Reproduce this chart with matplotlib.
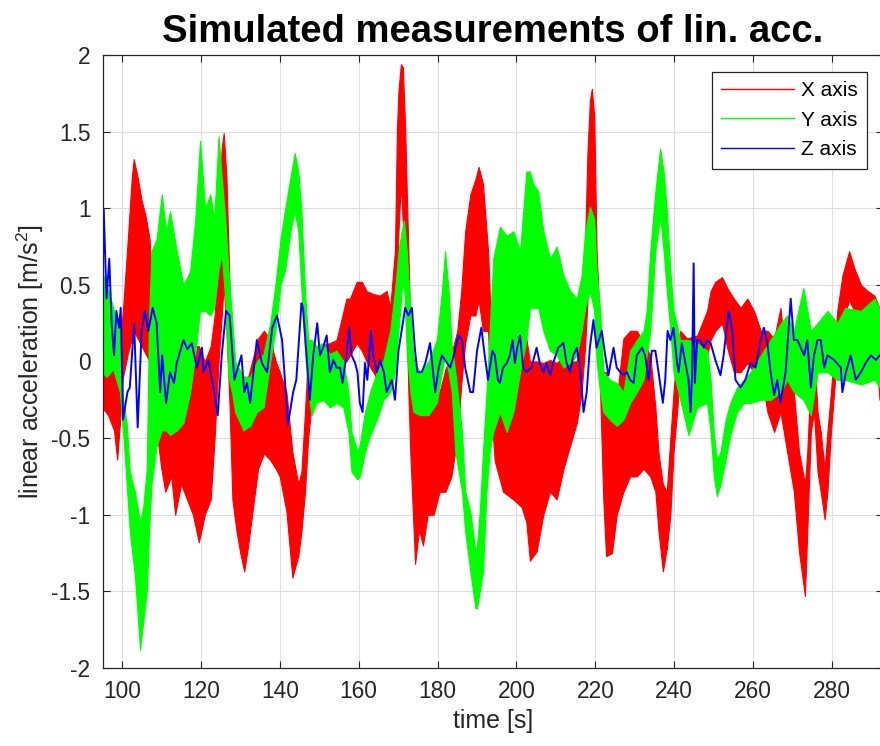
import matplotlib
matplotlib.use("Agg")
import matplotlib.pyplot as plt
from matplotlib.lines import Line2D
import numpy as np

plt.rcParams['font.family'] = ['Liberation Sans', 'DejaVu Sans']
plt.rcParams['mathtext.default'] = 'regular'
plt.rcParams['axes.unicode_minus'] = False

# X axis (red): time and lower / upper edge of the noisy band
x_t = [95.0, 96.5, 98.0, 98.8, 99.5, 100.3, 101.5, 102.5, 103.0, 104.0, 105.0, 106.0, 107.0,
       108.0, 109.0, 110.0, 111.0, 112.5, 113.5, 115.0, 116.5, 118.0, 119.5, 121.0, 122.5,
       123.5, 124.5, 125.3, 125.8, 126.5, 127.3, 128.0, 129.0, 130.0, 131.0, 132.0, 133.0,
       134.5, 136.0, 137.5, 139.0, 140.0, 141.7, 143.2, 144.7, 145.5, 146.4, 147.2, 148.0,
       150.0, 152.7, 154.4, 156.9, 157.8, 159.5, 160.8, 162.0, 163.7, 165.4, 167.1, 168.0,
       168.8, 169.2, 169.7, 170.1, 170.7, 171.2, 171.8, 172.2, 172.6, 173.1, 174.3, 175.3,
       176.3, 177.5, 179.0, 180.5, 182.0, 183.5, 185.0, 186.0, 187.0, 188.3, 189.6, 190.4,
       191.5, 192.8, 193.6, 194.5, 196.6, 199.2, 201.3, 202.5, 203.4, 205.1, 206.8, 208.5,
       210.2, 211.9, 213.6, 215.3, 216.5, 217.4, 218.0, 218.6, 219.1, 219.7, 220.3, 221.2,
       222.0, 222.7, 224.2, 225.4, 227.1, 228.8, 230.5, 232.2, 233.9, 235.2, 236.0, 237.1,
       238.1, 239.0, 239.8, 240.7, 241.5, 243.2, 245.8, 248.3, 249.2, 250.4, 252.1, 253.4,
       255.1, 256.8, 258.5, 260.2, 261.9, 263.6, 265.3, 266.9, 268.6, 270.3, 271.6, 273.1,
       273.7, 274.6, 275.4, 276.3, 277.1, 278.1, 278.8, 279.7, 280.5, 281.3, 282.6, 284.3,
       285.6, 287.3, 289.0, 290.7, 292.0, 293.0]
x_lo = [-0.30, -0.35, -0.45, -0.64, -0.40, -0.10, 0.05, 0.15, 0.20, 0.15, 0.10, 0.05, 0.00,
        -0.10, -0.50, -0.70, -0.85, -0.75, -1.00, -0.80, -0.90, -1.00, -1.18, -1.00, -0.90,
        -0.50, 0.00, 0.30, 0.50, 0.20, -0.30, -0.90, -1.10, -1.25, -1.37, -1.20, -1.00,
        -0.70, -0.60, -0.64, -0.70, -0.75, -0.98, -1.41, -1.27, -1.11, -0.85, -0.50, -0.30,
        -0.05, -0.05, 0.04, 0.00, 0.04, 0.12, 0.07, 0.00, -0.07, -0.15, -0.22, -0.10,
        0.00, 0.20, 0.40, 0.85, 1.16, 0.90, 0.50, 0.20, -0.20, -0.60, -1.32, -1.10,
        -1.20, -1.00, -1.00, -0.85, -0.85, -0.75, -0.50, -0.15, 0.12, 0.30, 0.30, 0.40,
        0.20, 0.20, -0.33, -0.65, -0.85, -0.90, -0.95, -1.05, -1.30, -1.24, -1.00, -0.85,
        -0.90, -0.70, -0.55, -0.40, -0.20, 0.10, 0.40, 0.75, 0.98, 0.60, 0.30, -0.20,
        -0.90, -1.27, -1.25, -1.00, -0.85, -0.75, -0.75, -0.70, -0.75, -0.85, -1.11, -1.37,
        -1.22, -1.00, -0.59, -0.33, -0.07, -0.05, -0.05, 0.04, 0.14, 0.20, 0.25, 0.09,
        -0.07, -0.07, -0.01, -0.07, -0.07, -0.33, -0.46, -0.33, -0.59, -0.85, -1.24, -1.53,
        -1.11, -0.46, -0.33, -0.72, -0.85, -1.03, -0.85, -0.46, -0.20, 0.07, 0.25, 0.40,
        0.33, 0.25, 0.20, 0.25, -0.25, 0.00]
x_hi = [0.35, 0.20, 0.10, 0.05, 0.10, 0.35, 0.80, 1.20, 1.32, 1.20, 1.05, 0.95, 0.80,
        0.40, 0.05, 0.00, -0.05, -0.05, -0.10, 0.00, 0.00, 0.10, 0.10, 0.00, 0.10,
        0.30, 0.90, 1.40, 1.49, 1.20, 0.46, 0.00, -0.05, -0.10, -0.10, -0.10, 0.00,
        0.15, 0.20, 0.15, 0.00, -0.07, -0.20, -0.59, -0.80, -0.72, -0.33, 0.07, 0.10,
        0.10, 0.12, 0.14, 0.41, 0.41, 0.52, 0.52, 0.46, 0.44, 0.43, 0.46, 0.35,
        0.60, 0.72, 1.51, 1.77, 1.94, 1.92, 1.51, 1.11, 0.72, 0.20, -0.07, -0.25,
        -0.30, -0.27, -0.20, -0.20, -0.05, 0.05, 0.20, 0.46, 0.85, 1.09, 1.19, 1.27,
        1.16, 0.72, 0.20, -0.25, -0.35, -0.33, 0.00, 0.15, 0.00, 0.00, -0.01, 0.01,
        -0.01, 0.03, 0.00, 0.00, 0.30, 0.80, 1.37, 1.70, 1.78, 1.60, 0.72, 0.20,
        -0.07, -0.07, -0.20, -0.25, 0.15, 0.20, 0.20, 0.12, 0.04, -0.30, -0.60, -0.80,
        -0.85, -0.50, -0.20, 0.07, 0.20, 0.15, 0.17, 0.33, 0.46, 0.52, 0.55, 0.48,
        0.41, 0.35, 0.41, 0.33, 0.20, 0.20, 0.15, 0.35, -0.07, -0.20, -0.59, -0.80,
        -0.59, -0.07, 0.10, -0.33, -0.46, -0.70, -0.46, -0.20, 0.07, 0.33, 0.56, 0.72,
        0.61, 0.50, 0.46, 0.43, 0.35, 0.30]

# Y axis (green)
y_t = [94.9, 96.1, 97.8, 99.5, 100.3, 101.2, 102.0, 103.3, 104.6, 105.4, 106.3, 106.9,
       107.5, 108.8, 110.1, 111.2, 112.2, 113.9, 115.6, 117.3, 118.6, 119.8, 121.1, 122.4,
       123.4, 124.5, 125.3, 126.2, 127.0, 127.9, 128.7, 130.8, 132.5, 134.2, 135.9, 137.6,
       138.9, 140.2, 141.4, 142.7, 143.8, 144.7, 145.5, 146.4, 147.2, 148.1, 149.3, 151.0,
       152.7, 154.4, 156.1, 157.4, 158.2, 159.7, 160.3, 161.6, 162.9, 164.6, 166.3, 168.0,
       169.2, 170.1, 170.9, 171.5, 172.2, 173.1, 173.9, 175.6, 177.7, 179.8, 181.1, 181.9,
       182.8, 183.6, 184.5, 186.2, 187.0, 188.3, 189.6, 190.0, 190.7, 191.5, 192.4, 193.2,
       194.1, 195.8, 197.5, 199.2, 200.9, 202.5, 203.4, 204.2, 205.5, 206.8, 208.5, 210.2,
       211.9, 213.6, 215.3, 216.5, 217.4, 218.6, 219.7, 220.3, 221.2, 222.0, 223.7, 225.4,
       227.1, 228.8, 230.5, 232.2, 233.0, 233.9, 235.2, 236.4, 237.3, 238.1, 239.0, 239.8,
       241.5, 243.6, 245.8, 248.3, 249.2, 250.0, 250.8, 251.7, 253.0, 254.2, 255.9, 257.6,
       259.3, 261.9, 264.4, 267.0, 268.6, 270.3, 272.7, 274.6, 276.3, 278.8, 281.3, 283.3,
       287.3, 290.7, 293.0]
y_lo = [-0.07, -0.10, -0.05, -0.20, -0.46, -0.80, -1.11, -1.40, -1.88, -1.70, -1.50, -1.10,
        -0.80, -0.55, -0.45, -0.45, -0.48, -0.45, -0.40, -0.20, 0.05, 0.33, 0.33, 0.30,
        0.35, 0.60, 0.70, 0.40, -0.10, -0.20, -0.33, -0.45, -0.42, -0.33, -0.30, 0.00,
        0.20, 0.50, 0.60, 0.85, 0.98, 0.85, 0.46, 0.07, -0.20, -0.35, -0.27, -0.25,
        -0.30, -0.27, -0.30, -0.46, -0.72, -0.77, -0.75, -0.59, -0.48, -0.38, -0.25, -0.20,
        -0.07, 0.20, 0.46, 0.50, 0.07, -0.20, -0.33, -0.35, -0.35, -0.27, -0.07, 0.04,
        -0.07, -0.20, -0.59, -0.85, -1.11, -1.37, -1.61, -1.61, -1.50, -1.37, -0.85, -0.59,
        -0.46, -0.33, -0.46, -0.33, -0.07, 0.14, 0.35, 0.35, 0.35, 0.20, 0.07, 0.04,
        -0.04, -0.01, 0.04, 0.20, 0.35, 0.46, 0.33, 0.00, -0.20, -0.33, -0.38, -0.42,
        -0.38, -0.27, -0.20, -0.12, 0.04, 0.20, 0.72, 0.95, 0.72, 0.46, 0.20, -0.07,
        -0.25, -0.48, -0.30, -0.27, -0.46, -0.75, -0.88, -0.80, -0.64, -0.48, -0.33, -0.27,
        -0.27, -0.25, -0.25, -0.20, -0.12, -0.20, -0.25, -0.35, -0.07, -0.07, -0.12, -0.12,
        -0.15, -0.12, -0.20]
y_hi = [0.59, 0.50, 0.35, 0.20, -0.25, -0.40, -0.72, -0.85, -1.05, -0.95, -0.70, 0.30,
        0.72, 0.80, 1.09, 0.85, 0.98, 0.72, 0.50, 0.59, 0.93, 1.44, 1.00, 1.09,
        0.93, 1.47, 1.20, 0.93, 0.59, 0.30, 0.00, -0.10, -0.10, 0.00, 0.05, 0.25,
        0.50, 0.80, 1.00, 1.20, 1.36, 1.24, 0.98, 0.46, 0.14, 0.14, 0.10, 0.12,
        0.05, 0.07, 0.00, -0.20, -0.46, -0.59, -0.54, -0.33, -0.20, -0.07, 0.01, 0.20,
        0.46, 0.72, 0.85, 0.92, 0.72, 0.33, 0.00, -0.07, 0.00, 0.14, 0.46, 0.72,
        0.46, 0.10, -0.07, -0.46, -0.85, -0.98, -1.24, -1.20, -0.98, -0.59, -0.20, 0.20,
        0.67, 0.88, 0.82, 0.85, 0.72, 1.24, 1.24, 1.16, 1.11, 0.85, 0.67, 0.75,
        0.56, 0.46, 0.41, 0.56, 0.85, 1.01, 0.93, 0.59, 0.33, -0.07, -0.12, -0.14,
        -0.20, 0.07, 0.14, 0.20, 0.33, 0.72, 1.11, 1.39, 1.24, 0.98, 0.59, 0.33,
        0.14, 0.14, 0.12, 0.07, -0.12, -0.46, -0.64, -0.59, -0.38, -0.27, -0.17, -0.12,
        -0.07, 0.04, 0.14, 0.25, 0.30, 0.20, 0.48, 0.20, 0.25, 0.33, 0.25, 0.35,
        0.33, 0.41, 0.30]

# Z axis (blue line)
z_t = [94.9, 95.4, 96.1, 96.8, 97.4, 98.0, 98.6, 99.3, 99.7, 100.3, 101.4, 102.0, 103.1,
       104.0, 105.0, 105.8, 106.7, 107.8, 108.8, 109.7, 110.2, 111.2, 112.2, 113.2, 113.9,
       115.6, 116.6, 117.7, 119.0, 120.3, 120.7, 121.9, 123.2, 124.3, 125.3, 126.4, 127.3,
       128.5, 130.3, 131.0, 131.7, 132.5, 134.2, 135.5, 136.8, 138.1, 139.3, 140.6, 142.1,
       143.4, 144.2, 145.5, 145.9, 146.8, 147.6, 148.5, 149.5, 150.2, 151.0, 151.9, 152.7,
       153.6, 154.4, 155.3, 155.9, 156.9, 157.6, 158.2, 159.1, 159.7, 160.3, 161.0, 161.6,
       162.2, 163.1, 163.7, 164.6, 165.4, 166.4, 167.1, 168.4, 169.2, 170.1, 170.9, 171.8,
       172.6, 173.5, 174.3, 174.9, 176.0, 176.9, 178.1, 179.4, 180.3, 181.1, 181.9, 183.2,
       184.1, 185.3, 186.2, 187.0, 188.3, 189.0, 190.0, 191.1, 191.95, 192.8, 193.9, 194.5,
       195.3, 195.8, 196.6, 197.6, 198.3, 199.0, 199.6, 200.2, 200.9, 201.7, 202.5, 203.8,
       205.1, 205.9, 206.8, 207.6, 208.5, 209.3, 210.6, 211.9, 212.7, 213.6, 214.4, 215.3,
       216.1, 217.0, 217.8, 218.6, 219.5, 220.3, 221.6, 222.5, 223.3, 224.6, 225.4, 226.3,
       227.1, 228.0, 228.8, 229.7, 230.5, 231.8, 232.6, 233.5, 234.3, 235.2, 236.0, 237.1,
       237.7, 238.3, 239.0, 239.8, 240.7, 241.1, 241.9, 242.8, 243.6, 244.1, 244.5, 244.9,
       245.2, 245.8, 246.6, 247.5, 248.3, 249.2, 250.4, 251.7, 252.5, 253.4, 253.8, 254.7,
       255.5, 256.8, 258.0, 259.3, 260.6, 261.9, 262.7, 263.6, 264.4, 265.3, 266.1, 266.9,
       268.2, 269.5, 270.3, 271.2, 272.9, 273.7, 274.6, 275.4, 276.3, 277.1, 278.0, 278.8,
       280.5, 282.2, 282.6, 283.5, 284.7, 286.0, 287.3, 288.5, 289.8, 291.1, 292.4]
z_v = [0.14, 0.99, 0.41, 0.67, 0.25, 0.04, 0.33, 0.22, 0.35, -0.38, -0.20, -0.17, 0.25,
       -0.43, 0.20, 0.33, 0.20, 0.35, 0.25, -0.20, 0.04, -0.27, -0.07, -0.14, -0.01,
       0.14, 0.08, 0.12, -0.04, 0.09, -0.07, 0.01, -0.17, -0.35, 0.04, 0.33, 0.30,
       -0.12, 0.04, -0.20, -0.14, -0.27, 0.14, -0.01, -0.07, 0.22, 0.30, 0.14, -0.41,
       -0.20, -0.12, 0.38, 0.35, 0.04, -0.25, 0.04, 0.25, 0.04, 0.09, 0.17, -0.07,
       0.01, -0.04, -0.04, -0.14, 0.04, 0.22, 0.04, -0.01, -0.07, -0.27, -0.33, -0.01,
       -0.12, 0.20, 0.04, -0.07, 0.01, -0.07, -0.20, -0.12, -0.25, 0.07, 0.20, 0.35,
       0.30, 0.35, 0.07, -0.07, -0.07, -0.01, 0.12, -0.20, -0.04, 0.04, 0.01, -0.04,
       0.04, 0.17, 0.14, -0.04, -0.20, -0.20, 0.07, 0.22, 0.04, -0.12, 0.07, 0.04,
       -0.12, -0.14, -0.04, -0.01, 0.04, 0.14, -0.01, 0.09, 0.17, -0.04, -0.07, -0.04,
       0.09, -0.01, -0.07, -0.01, -0.09, -0.01, 0.09, 0.12, -0.01, -0.07, 0.04, 0.09,
       -0.04, -0.33, -0.20, 0.09, 0.27, 0.09, 0.20, 0.04, -0.09, 0.09, -0.04, -0.07,
       -0.09, -0.07, -0.12, -0.14, 0.04, 0.09, 0.04, -0.12, 0.07, 0.07, -0.07, -0.27,
       -0.12, 0.20, 0.14, 0.22, -0.01, -0.07, 0.12, -0.01, -0.12, -0.33, -0.09, 0.64,
       -0.14, 0.14, 0.14, 0.09, 0.14, 0.12, 0.01, -0.09, 0.04, 0.25, 0.33, 0.20,
       -0.12, -0.17, -0.12, -0.01, -0.04, 0.14, 0.22, 0.12, -0.07, -0.22, -0.12, -0.27,
       -0.07, 0.41, 0.14, 0.14, 0.04, 0.14, -0.17, 0.04, 0.14, 0.14, -0.04, 0.04,
       0.01, -0.04, -0.20, -0.07, 0.04, -0.12, -0.07, -0.01, 0.04, 0.01, 0.05]

yticks = [-2, -1.5, -1, -0.5, 0, 0.5, 1, 1.5, 2]
ytick_labels = ['-2', '-1.5', '-1', '-0.5', '0', '0.5', '1', '1.5', '2']
xticks = [100, 120, 140, 160, 180, 200, 220, 240, 260, 280]

dark = (0.15, 0.15, 0.15)

fig = plt.figure(figsize=(8.8, 7.46), dpi=100)
ax = fig.add_axes([0.117, 0.1046, 0.886, 0.8217])

ax.fill_between(x_t, x_lo, x_hi, color='#ff0000', lw=0.8, edgecolor='#ff0000')
ax.fill_between(y_t, y_lo, y_hi, color='#00ff00', lw=0.8, edgecolor='#00ff00')
ax.plot(z_t, z_v, color='#0000ff', lw=1.4)

ax.set_xlim(95.2, 292.8)
ax.set_ylim(-2, 2)
ax.set_xticks(xticks)
ax.set_yticks(yticks)
ax.set_yticklabels(ytick_labels)
ax.grid(True, color='#dedede', lw=0.8)
ax.set_axisbelow(True)
ax.tick_params(direction='in', length=5, width=0.8, colors=dark, labelsize=16.4,
               top=True, right=True, pad=9)
for s in ax.spines.values():
    s.set_color(dark)
    s.set_linewidth(0.9)

ax.set_title('Simulated measurements of lin. acc.', fontsize=27.5, fontweight='bold', pad=9)
ax.set_xlabel('time [s]', fontsize=18, color=dark, labelpad=4)
ax.set_ylabel('linear acceleration [m/s$^2$]', fontsize=18, color=dark, labelpad=4)

handles = [Line2D([], [], color='#ff0000', lw=1),
           Line2D([], [], color='#00ff00', lw=1),
           Line2D([], [], color='#0000ff', lw=1)]
leg = ax.legend(handles, ['X axis', 'Y axis', 'Z axis'], loc='upper left',
                bbox_to_anchor=(712 / 880, 1 - 72 / 746), bbox_transform=fig.transFigure,
                fontsize=15, handlelength=3.5, handletextpad=0.3, labelspacing=0.5,
                borderaxespad=0, borderpad=0.45, fancybox=False, framealpha=1)
leg.get_frame().set_edgecolor(dark)
leg.get_frame().set_linewidth(0.9)

fig.savefig('out.png', dpi=100)
